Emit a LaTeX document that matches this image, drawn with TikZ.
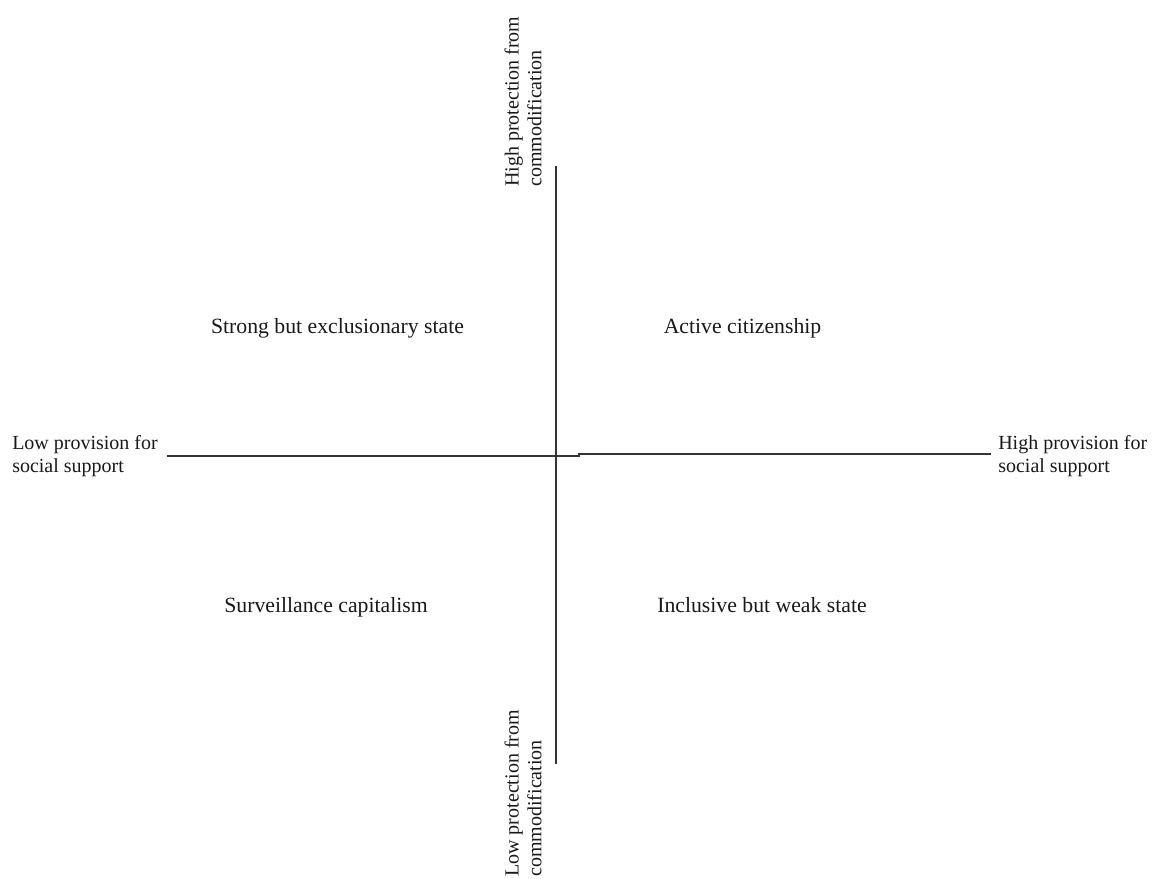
\documentclass[tikz,border=0pt]{standalone}
\usepackage{fontspec}
\setmainfont{Liberation Serif}
\begin{document}
\begin{tikzpicture}[x=0.75pt,y=-0.75pt,
  axislabel/.style={font=\fontsize{15}{17}\selectfont, align=left, inner sep=0pt, text=black!90},
  quadlabel/.style={font=\fontsize{16.3}{19}\selectfont, inner sep=0pt, anchor=base, text=black!90},
  axisline/.style={line width=0.8pt, draw=black!80}]
\useasboundingbox[fill=white] (0,0) rectangle (1152,878);
% axes
\coordinate (vtop) at (556,166);
\coordinate (vbot) at (556,764);
\coordinate (hleft) at (167,456);
\coordinate (hmidl) at (579,456);
\coordinate (hmidr) at (579,454);
\coordinate (hright) at (991,454);
\draw[axisline] (vtop) -- (vbot);
\draw[axisline] (hleft) -- (hmidl) -- (hmidr) -- (hright);
% axis labels
\node[axislabel, anchor=west] (lowprov) at (12,456) {Low provision for\\social support};
\node[axislabel, anchor=west] (highprov) at (998,456) {High provision for\\social support};
\node[axislabel, anchor=west, rotate=90] (highprot) at (523,187) {High protection from\\commodification};
\node[axislabel, anchor=west, rotate=90] (lowprot) at (523,877) {Low protection from\\commodification};
% quadrant labels
\node[quadlabel] (strong) at (337.5,333) {Strong but exclusionary state};
\node[quadlabel] (active) at (742.5,333) {Active citizenship};
\node[quadlabel] (surv) at (326,612) {Surveillance capitalism};
\node[quadlabel] (incl) at (762,612) {Inclusive but weak state};
\end{tikzpicture}
\end{document}
